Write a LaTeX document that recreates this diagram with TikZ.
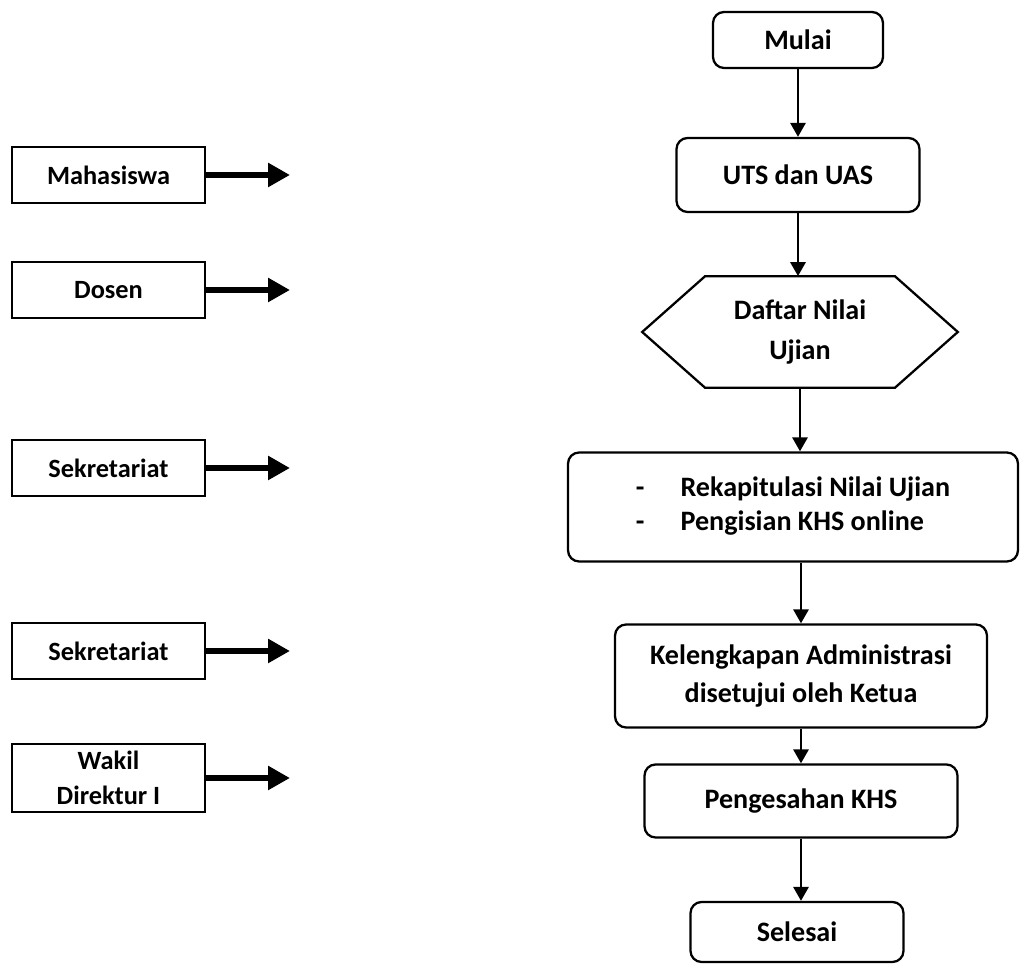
\documentclass[tikz,border=0pt]{standalone}
\usepackage{fontspec}
\setmainfont{Carlito}
\usetikzlibrary{arrows.meta}

\tikzset{
  every node/.style={font=\fontsize{15}{20}\selectfont\bfseries},
  proc/.style={draw, rounded corners=0.22cm, line width=1.3pt, align=center,
    font=\fontsize{16}{22}\selectfont\bfseries},
  actor/.style={draw, line width=1.3pt, minimum width=3.86cm, minimum height=1.12cm,
    align=center, inner sep=1pt},
  flow/.style={-{Triangle[length=0.28cm,width=0.3cm]}, line width=1.7pt},
  role/.style={-{Triangle[length=0.44cm,width=0.46cm]}, line width=3.4pt},
}

\begin{document}
\begin{tikzpicture}[x=0.02cm, y=-0.02cm]
  \useasboundingbox (0,0) rectangle (1022,972);
  % who is involved
  \foreach \n/\yy/\hh/\lab in {mhs/175/1.12/Mahasiswa, dsn/290/1.12/Dosen,
                               skra/468/1.12/Sekretariat, skrb/651/1.12/Sekretariat,
                               wadir/778/1.36/{Wakil\\Direktur I}}
    {
      \node[actor, minimum height=\hh cm] (\n) at (108.5,\yy) {\lab};
      \coordinate (\n end) at (290,\yy);
      \draw[role] (\n) -- (\n end);
    }
  % process steps
  \node[proc, minimum width=3.4cm, minimum height=1.12cm] (mulai) at (798,40) {Mulai};
  \node[proc, minimum width=4.86cm, minimum height=1.48cm] (uts) at (798,175) {UTS dan UAS};
  \node[minimum width=6.3cm, minimum height=2.22cm, align=center,
    font=\fontsize{16}{23}\selectfont\bfseries] (nilai) at (800,332) {Daftar Nilai\\Ujian};
  \draw[line width=1.3pt] (nilai.west) -- ([xshift=1.26cm]nilai.north west)
    -- ([xshift=-1.26cm]nilai.north east) -- (nilai.east)
    -- ([xshift=-1.26cm]nilai.south east) -- ([xshift=1.26cm]nilai.south west) -- cycle;
  \node[proc, minimum width=9cm, minimum height=2.18cm,
    font=\fontsize{16}{19}\selectfont\bfseries] (rekap) at (793,507)
    {\begin{tabular}{@{}l@{\hspace{0.72cm}}l@{}}
       - & Rekapitulasi Nilai Ujian\\
       - & Pengisian KHS online
     \end{tabular}};
  \node[proc, minimum width=7.44cm, minimum height=2.06cm] (admin) at (801,676)
    {Kelengkapan Administrasi\\disetujui oleh Ketua};
  \node[proc, minimum width=6.26cm, minimum height=1.46cm] (sah) at (801,801) {Pengesahan KHS};
  \node[proc, minimum width=4.26cm, minimum height=1.2cm] (selesai) at (797,932) {Selesai};
  % arrows down the chart
  \draw[flow] (mulai.south) -- (mulai.south |- uts.north);
  \draw[flow] (uts.south) -- (uts.south |- nilai.north);
  \draw[flow] (nilai.south) -- (nilai.south |- rekap.north);
  \draw[flow] (admin.north |- rekap.south) -- (admin.north);
  \draw[flow] (admin.south) -- (admin.south |- sah.north);
  \draw[flow] (sah.south) -- (sah.south |- selesai.north);
\end{tikzpicture}
\end{document}
